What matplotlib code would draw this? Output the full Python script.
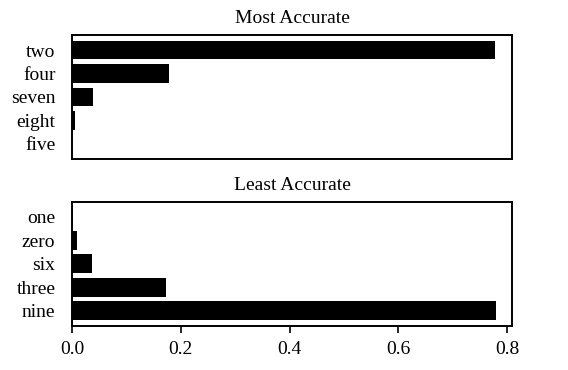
import matplotlib
matplotlib.use('Agg')
import matplotlib.pyplot as plt

# top-to-bottom order as shown in the chart
most_labels = ['two', 'four', 'seven', 'eight', 'five']
most_values = [0.779, 0.178, 0.038, 0.006, 0.0005]

least_labels = ['one', 'zero', 'six', 'three', 'nine']
least_values = [0.002, 0.0098, 0.037, 0.172, 0.780]

xticks = [0.0, 0.2, 0.4, 0.6, 0.8]

plt.rcParams['font.family'] = ['Liberation Serif', 'DejaVu Serif']
plt.rcParams['font.size'] = 14

fig, (ax_top, ax_bot) = plt.subplots(2, 1, figsize=(5.68, 3.70), dpi=100, sharex=True)
fig.subplots_adjust(left=0.127, right=0.902, top=0.905, bottom=0.12, hspace=0.35)

for ax, labels, values, title in ((ax_top, most_labels, most_values, 'Most Accurate'),
                                  (ax_bot, least_labels, least_values, 'Least Accurate')):
    ypos = range(len(labels))
    ax.barh(ypos, values, color='black')
    ax.set_yticks(list(ypos))
    ax.set_yticklabels(labels)
    ax.invert_yaxis()
    ax.set_title(title, fontsize=14, pad=9)
    ax.tick_params(axis='y', length=0, pad=12)
    for sp in ax.spines.values():
        sp.set_linewidth(1.4)

ax_top.tick_params(axis='x', length=0, labelbottom=False)
ax_bot.set_xticks(xticks)
ax_bot.set_xticklabels([f'{t:.1f}' for t in xticks])
ax_bot.tick_params(axis='x', length=5, width=1.2, pad=6)
ax_bot.set_xlim(0, 0.81)

fig.savefig('out.png', dpi=100)
